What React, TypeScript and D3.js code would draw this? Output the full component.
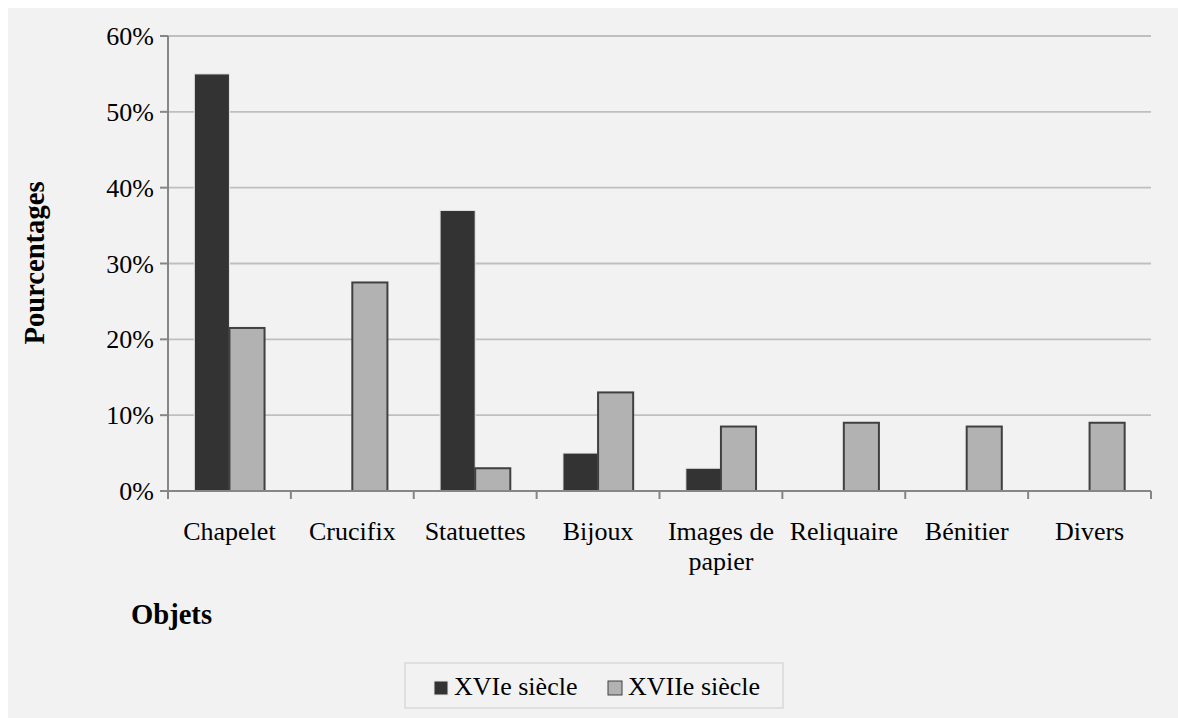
import React from "react";
import * as d3 from "d3";

const categories = ["Chapelet", "Crucifix", "Statuettes", "Bijoux", "Images de papier", "Reliquaire", "Bénitier", "Divers"];
const categoryLines = [["Chapelet"], ["Crucifix"], ["Statuettes"], ["Bijoux"], ["Images de", "papier"], ["Reliquaire"], ["Bénitier"], ["Divers"]];
const seriesNames = ["XVIe siècle", "XVIIe siècle"];
const xvi = [55, 0, 37, 5, 3, 0, 0, 0];
const xvii = [21.5, 27.5, 3, 13, 8.5, 9, 8.5, 9];
const yTicks = [0, 10, 20, 30, 40, 50, 60];

const FONT = "'Liberation Serif', 'Times New Roman', serif";

export default function App() {
  const left = 168, right = 1151, top = 36, bottom = 491;
  const x = d3.scaleBand<string>().domain(categories).range([left, right]).paddingInner(0).paddingOuter(0);
  const y = d3.scaleLinear().domain([0, 60]).range([bottom, top]);
  const bw = x.bandwidth() / 3.5;
  const sub = d3.scaleBand<number>().domain([0, 1]).range([0, 2 * bw]);
  const off = (x.bandwidth() - 2 * bw) / 2;
  const series = [xvi, xvii];
  const fills = ["#333333", "#b2b2b2"];
  const strokes = ["#e6e6e6", "#404040"];
  const tickXs = [...categories.map((c) => x(c)!), right];

  return (
    <>
      <style>{`html,body{margin:0;padding:0;background:#f2f2f2;overflow:hidden;}`}</style>
      <svg width={1178} height={718} style={{ display: "block", position: "fixed", left: 0, top: 0 }}>
        <rect x={0} y={0} width={1178} height={718} fill="#f2f2f2" />
        <rect x={0} y={0} width={1178} height={8} fill="#ffffff" />
        <rect x={0} y={0} width={8} height={718} fill="#ffffff" />
        {yTicks.filter((t) => t > 0).map((t) => (
          <line key={"g" + t} x1={left} x2={right} y1={y(t)} y2={y(t)} stroke="#bfbfbf" strokeWidth={1.8} />
        ))}
        {series.map((vals, si) =>
          vals.map((v, i) =>
            v > 0 ? (
              <rect
                key={si + "-" + i}
                x={x(categories[i])! + off + sub(si)!}
                y={y(v)}
                width={bw}
                height={bottom - y(v)}
                fill={fills[si]}
                stroke={strokes[si]}
                strokeWidth={si === 0 ? 1 : 2}
              />
            ) : null
          )
        )}
        <line x1={left} x2={left} y1={top} y2={bottom} stroke="#868686" strokeWidth={2} />
        <line x1={left} x2={right} y1={bottom} y2={bottom} stroke="#868686" strokeWidth={2} />
        {yTicks.map((t) => (
          <g key={"t" + t}>
            <line x1={left - 8} x2={left} y1={y(t)} y2={y(t)} stroke="#868686" strokeWidth={2} />
            <text x={left - 14} y={y(t) + 9} textAnchor="end" fontFamily={FONT} fontSize={26} fill="#000">
              {t + "%"}
            </text>
          </g>
        ))}
        {tickXs.map((tx, i) => (
          <line key={"xt" + i} x1={tx} x2={tx} y1={bottom} y2={bottom + 8} stroke="#868686" strokeWidth={2} />
        ))}
        {categories.map((c, i) => (
          <text key={c} textAnchor="middle" fontFamily={FONT} fontSize={26} fill="#000">
            {categoryLines[i].map((ln, li) => (
              <tspan key={li} x={x(c)! + x.bandwidth() / 2} y={540 + li * 30}>
                {ln}
              </tspan>
            ))}
          </text>
        ))}
        <text
          transform={`translate(44,263) rotate(-90)`}
          textAnchor="middle"
          fontFamily={FONT}
          fontSize={28.6}
          fontWeight="bold"
          fill="#000"
        >
          Pourcentages
        </text>
        <text x={131} y={624} fontFamily={FONT} fontSize={28.6} fontWeight="bold" fill="#000">
          Objets
        </text>
        <rect x={405} y={663} width={378} height={45} fill="#f2f2f2" stroke="#d9d9d9" strokeWidth={1.5} />
        {seriesNames.map((s, i) => {
          const lx = i === 0 ? 434 : 608;
          return (
            <g key={s}>
              <rect x={lx} y={681} width={14} height={14} fill={fills[i]} stroke={i === 0 ? "#e6e6e6" : "#404040"} strokeWidth={1} />
              <text x={lx + 20} y={695} fontFamily={FONT} fontSize={26} fill="#000">
                {s}
              </text>
            </g>
          );
        })}
      </svg>
    </>
  );
}
